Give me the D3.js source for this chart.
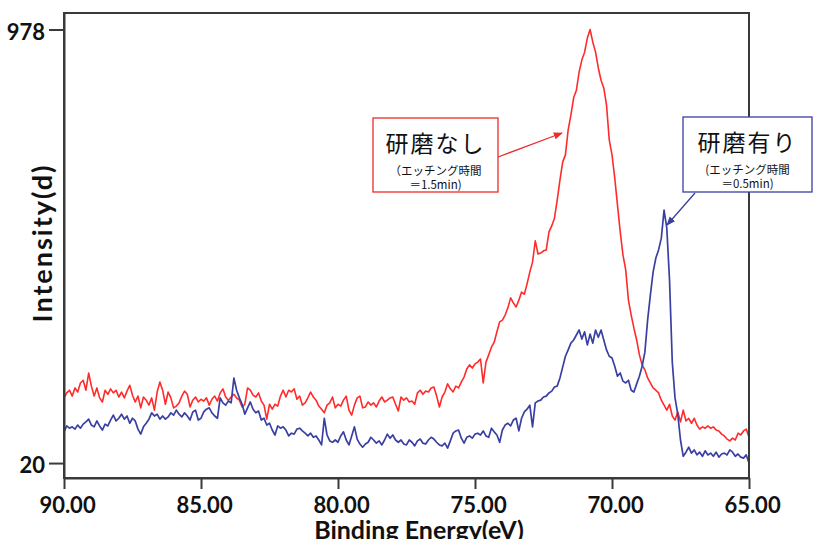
<!DOCTYPE html>
<html>
<head>
<meta charset="utf-8">
<script src="https://cdn.jsdelivr.net/npm/d3@7"></script>
<style>
  html, body { margin: 0; padding: 0; background: #fff; }
  svg { display: block; }
</style>
</head>
<body>
<svg id="chart" width="813" height="539"></svg>
<script>
// Binding-energy sampling grid (eV): 90.00 down to 65.00 in 0.1 eV steps
const energyStart = 90.0;
const energyStep = 0.1;

// 研磨なし (etching 1.5 min)
const unpolished = [
  164,175,181,168,186,177,197,203,181,219,
  190,168,186,164,155,181,172,184,175,181,
  166,177,164,179,192,170,155,168,142,166,
  159,148,164,137,177,199,181,150,177,164,
  142,146,153,168,179,172,144,159,166,155,
  161,157,164,148,161,168,157,175,184,166,
  159,166,172,164,159,144,150,186,181,170,
  166,175,157,148,117,150,139,150,146,168,
  181,166,181,177,184,161,168,148,153,164,
  177,166,159,146,139,131,148,153,166,142,
  150,146,159,168,137,126,148,164,168,142,
  144,155,148,153,144,157,166,155,159,164,
  166,150,135,166,159,164,155,157,150,175,
  181,172,179,177,186,188,168,144,166,177,
  195,184,177,190,186,199,210,228,237,230,
  239,243,250,197,243,259,276,287,310,332,
  336,347,363,385,374,365,380,398,393,416,
  442,464,511,482,484,489,491,531,544,561,
  601,645,685,701,756,789,827,844,884,911,
  928,959,978,950,928,893,866,849,811,734,
  701,650,590,531,480,447,380,347,318,292,
  259,237,226,208,197,186,181,175,159,148,
  137,150,124,115,133,111,137,113,119,108,
  119,104,95,100,97,102,97,100,93,91,
  84,80,73,69,75,71,86,82,91,95,
  77
];

// 研磨有り (etching 0.5 min)
const polished = [
  89,102,97,100,95,104,97,106,111,117,
  104,100,113,102,93,106,102,115,126,113,
  119,128,117,124,108,119,113,95,84,100,
  108,117,131,124,128,117,124,117,122,131,
  126,137,128,122,131,124,115,133,137,115,
  119,133,139,142,131,124,119,164,153,148,
  157,153,208,181,164,150,128,142,155,139,
  131,135,115,119,104,108,93,82,102,97,
  100,93,80,86,84,95,97,91,86,80,
  86,77,80,71,60,119,82,69,66,71,
  66,80,89,71,60,80,100,73,62,55,
  62,66,77,71,64,69,60,71,84,75,
  82,71,66,71,62,60,71,66,58,69,
  73,64,62,71,77,73,66,60,58,64,
  53,69,86,91,93,75,64,77,80,75,
  84,86,82,91,80,77,97,89,82,66,
  93,104,108,102,115,119,91,119,133,139,
  148,100,153,157,159,166,168,175,179,188,
  190,208,232,256,270,285,292,303,314,294,
  310,281,305,285,314,298,314,292,270,256,
  252,234,212,219,201,197,203,181,177,195,
  212,234,265,336,391,442,473,491,517,579,
  539,424,243,164,128,71,35,44,55,42,
  49,38,44,35,47,38,42,35,44,33,
  40,42,38,49,44,35,40,33,31,38,
  20
];

const xTicks = [90, 85, 80, 75, 70, 65];
const yTicks = [20, 978];

const svg = d3.select("#chart");
const plotL = 64, plotT = 13, plotR = 749, plotB = 478;

const x = d3.scaleLinear().domain([90, 65]).range([plotL, plotR]);
const y = d3.scaleLinear().domain([-13, 1014.5]).range([plotB, plotT]);

const energyAt = i => energyStart - i * energyStep;

const defs = svg.append("defs");
defs.append("clipPath").attr("id", "plotClip")
  .append("rect")
  .attr("x", plotL).attr("y", plotT)
  .attr("width", plotR - plotL).attr("height", plotB - plotT);

const line = d3.line()
  .x((d, i) => x(energyAt(i)))
  .y(d => y(d));

const plot = svg.append("g").attr("clip-path", "url(#plotClip)");
plot.append("path").datum(unpolished)
  .attr("fill", "none").attr("stroke", "#ff2b2b").attr("stroke-width", 1.6)
  .attr("stroke-linejoin", "round").attr("d", line);
plot.append("path").datum(polished)
  .attr("fill", "none").attr("stroke", "#3a40a2").attr("stroke-width", 1.7)
  .attr("stroke-linejoin", "round").attr("d", line);

// Frame
const frameColor = "#3a3a3a";
svg.append("rect")
  .attr("x", plotL).attr("y", plotT)
  .attr("width", plotR - plotL).attr("height", plotB - plotT)
  .attr("fill", "none").attr("stroke", frameColor).attr("stroke-width", 2);

const latin = "Lato, 'Open Sans', sans-serif";

// X axis
const xAxis = d3.axisBottom(x).tickValues(xTicks)
  .tickFormat(d3.format(".2f")).tickSize(11).tickSizeOuter(0);
const gx = svg.append("g").attr("transform", `translate(0,${plotB})`).call(xAxis);
gx.select(".domain").attr("stroke", frameColor).attr("stroke-width", 2);
gx.selectAll(".tick line").attr("stroke", frameColor).attr("stroke-width", 2);
gx.selectAll(".tick text")
  .attr("font-family", latin)
  .attr("font-weight", "bold").attr("font-size", 22)
  .attr("fill", "#111").attr("dy", 0).attr("y", 35).attr("dx", 3);

// Y axis
const yAxis = d3.axisLeft(y).tickValues(yTicks)
  .tickFormat(d3.format("d")).tickSize(15).tickSizeOuter(0).tickPadding(4);
const gy = svg.append("g").attr("transform", `translate(${plotL},0)`).call(yAxis);
gy.select(".domain").attr("stroke", frameColor).attr("stroke-width", 2);
gy.selectAll(".tick line").attr("stroke", frameColor).attr("stroke-width", 2);
gy.selectAll(".tick text")
  .attr("font-family", latin)
  .attr("font-weight", "bold").attr("font-size", 22)
  .attr("fill", "#111").attr("dy", "0.45em");

// Axis titles
svg.append("text")
  .attr("x", 419).attr("y", 539)
  .attr("text-anchor", "middle")
  .attr("font-family", latin)
  .attr("font-weight", "bold").attr("font-size", 25)
  .attr("fill", "#111")
  .text("Binding Energy(eV)");

svg.append("text")
  .attr("transform", "translate(52,243) rotate(-90)")
  .attr("text-anchor", "middle")
  .attr("font-family", latin)
  .attr("font-weight", "bold").attr("font-size", 27)
  .attr("letter-spacing", 2)
  .attr("fill", "#111")
  .text("Intensity(d)");

// Callouts with arrows
function marker(id, color) {
  defs.append("marker").attr("id", id)
    .attr("viewBox", "0 0 10 10").attr("refX", 9).attr("refY", 5)
    .attr("markerWidth", 7).attr("markerHeight", 7)
    .attr("orient", "auto")
    .append("path").attr("d", "M0,1 L10,5 L0,9 Z").attr("fill", color);
}
marker("arrowRed", "#ee2a2a");
marker("arrowBlue", "#3a40a2");

const cjk = "'Noto Sans CJK JP', 'Noto Sans', sans-serif";

function callout(c) {
  const g = svg.append("g");
  g.append("line")
    .attr("x1", c.ax1).attr("y1", c.ay1).attr("x2", c.ax2).attr("y2", c.ay2)
    .attr("stroke", c.color).attr("stroke-width", 1.3)
    .attr("marker-end", `url(#${c.marker})`);
  g.append("rect")
    .attr("x", c.x).attr("y", c.y).attr("width", c.w).attr("height", c.h)
    .attr("fill", "#fff").attr("stroke", c.color).attr("stroke-width", 1.3);
  const cx = c.x + c.w / 2;
  g.append("text").attr("x", cx).attr("y", c.y + 34)
    .attr("text-anchor", "middle").attr("font-family", cjk)
    .attr("font-size", 23).attr("letter-spacing", 2).attr("fill", "#111")
    .text(c.title);
  g.append("text").attr("x", cx).attr("y", c.y + 57)
    .attr("text-anchor", "middle").attr("font-family", cjk)
    .attr("font-size", 11.5).attr("fill", "#111")
    .text(c.line1);
  g.append("text").attr("x", cx).attr("y", c.y + 71)
    .attr("text-anchor", "middle").attr("font-family", cjk)
    .attr("font-size", 11.5).attr("fill", "#111")
    .text(c.line2);
}

callout({
  x: 373, y: 118, w: 125, h: 74, color: "#ee2a2a", marker: "arrowRed",
  ax1: 498, ay1: 157, ax2: 562, ay2: 133,
  title: "研磨なし", line1: "（エッチング時間", line2: "＝1.5min)"
});
callout({
  x: 683, y: 117, w: 129, h: 75, color: "#3a40a2", marker: "arrowBlue",
  ax1: 695, ay1: 193, ax2: 667, ay2: 225,
  title: "研磨有り", line1: "(エッチング時間", line2: "＝0.5min)"
});
</script>
</body>
</html>
